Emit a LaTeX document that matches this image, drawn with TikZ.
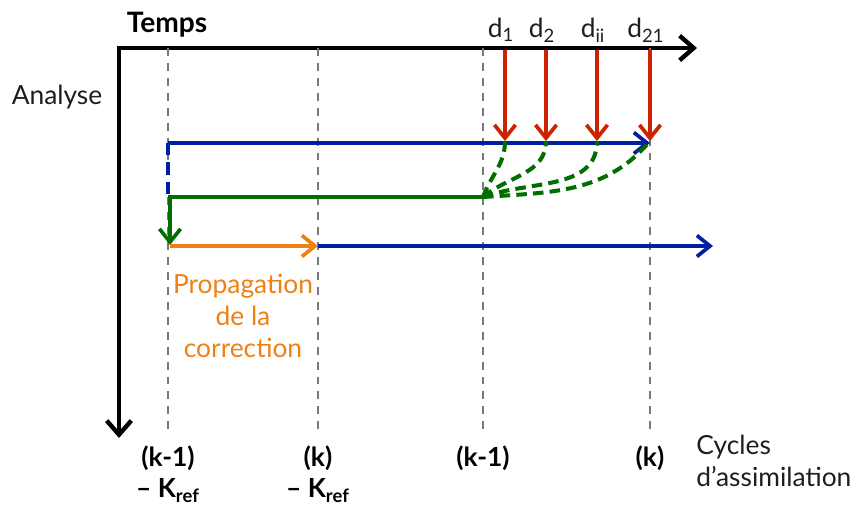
\documentclass[tikz,border=0pt]{standalone}
\usepackage{fontspec}
\setmainfont{Lato}
\usetikzlibrary{arrows.meta}
\definecolor{CyRed}{RGB}{204,34,0}
\definecolor{CyBlue}{RGB}{0,32,160}
\definecolor{CyGreen}{RGB}{0,110,0}
\definecolor{CyOrange}{RGB}{238,128,20}
\definecolor{CyGray}{RGB}{120,120,120}
\definecolor{CyText}{RGB}{30,30,30}

\begin{document}
\begin{tikzpicture}[x=0.02cm, y=-0.02cm,
    axe/.style={line width=2.5pt, line cap=rect,
                -{Straight Barb[length=8pt, width=14pt]}},
    repere/.style={CyGray, line width=1.4pt, dash pattern=on 4.5pt off 4pt},
    fl/.style={line width=2.1pt, -{Straight Barb[length=7.5pt, width=12pt]}},
    lbl/.style={font=\fontsize{15}{18}\selectfont, inner sep=0pt, text=CyText},
    cyc/.style={lbl, text=black, font=\fontsize{15}{18}\selectfont\bfseries}
  ]
  \useasboundingbox (0,0) rectangle (859,505);

  % axes
  \coordinate (o) at (119,48);
  \coordinate (tfin) at (697,48);
  \coordinate (afin) at (119,438);
  \draw[axe] (o) -- (tfin);
  \draw[axe] (o) -- (afin);
  \node[lbl, text=black, font=\fontsize{16}{19}\selectfont\bfseries]
        (temps) at (167,25) {Temps};
  \node[lbl] (analyse) at (57,97) {Analyse};

  % cycles
  \foreach \x/\n in {168/a, 318/b, 483/c, 650/d} {
    \coordinate (top\n) at (\x,48);
    \coordinate (bot\n) at (\x,432);
    \draw[repere] (top\n) -- (bot\n);
  }
  \node[cyc, align=center, anchor=north] (cya) at (168,445)
        {(k-1)\\– K\textsubscript{ref}};
  \node[cyc, align=center, anchor=north] (cyb) at (318,445)
        {(k)\\– K\textsubscript{ref}};
  \node[cyc, anchor=north] (cyc) at (483,445) {(k-1)};
  \node[cyc, anchor=north] (cyd) at (650,445) {(k)};
  \node[lbl, align=left, anchor=north west] (cycles) at (696,435)
        {Cycles\\d’assimilation};

  % observations
  \foreach \i/\x/\lab in {1/505/1, 2/546/2, 3/597/ii, 4/650/21} {
    \coordinate (dh\i) at (\x,50);
    \coordinate (db\i) at (\x,141);
    \node[lbl] (d\i) at (\x-4,30) {d\textsubscript{\lab}};
    \draw[fl, CyRed] (dh\i) -- (db\i);
  }

  % analyse
  \coordinate (bl) at (168,143);
  \coordinate (br) at (650,143);
  \coordinate (bdash) at (168,195);
  \draw[fl, CyBlue] (bl) -- (br);
  \draw[CyBlue, line width=2.1pt, dash pattern=on 7pt off 4pt] (bl) -- (bdash);

  \coordinate (gs) at (483,197);
  \coordinate (ge) at (170,245);
  \draw[fl, CyGreen] (gs) -| (ge);
  \draw[CyGreen, line width=2.3pt, dash pattern=on 6pt off 3.5pt]
    (gs) to[out=70, in=-90] (db1)
    (gs) to[out=40, in=-90] (db2)
    (gs) to[out=20, in=-90] (db3)
    (gs) to[out=4, in=-130] (db4);

  % propagation
  \coordinate (pa) at (170,246);
  \coordinate (pb) at (318,246);
  \coordinate (pc) at (713,246);
  \draw[fl, CyOrange] (pa) -- (pb);
  \draw[fl, CyBlue] (pb) -- (pc);
  \node[lbl, text=CyOrange, align=center] (prop) at (243,316)
        {Propagation\\de la\\correction};
\end{tikzpicture}
\end{document}
